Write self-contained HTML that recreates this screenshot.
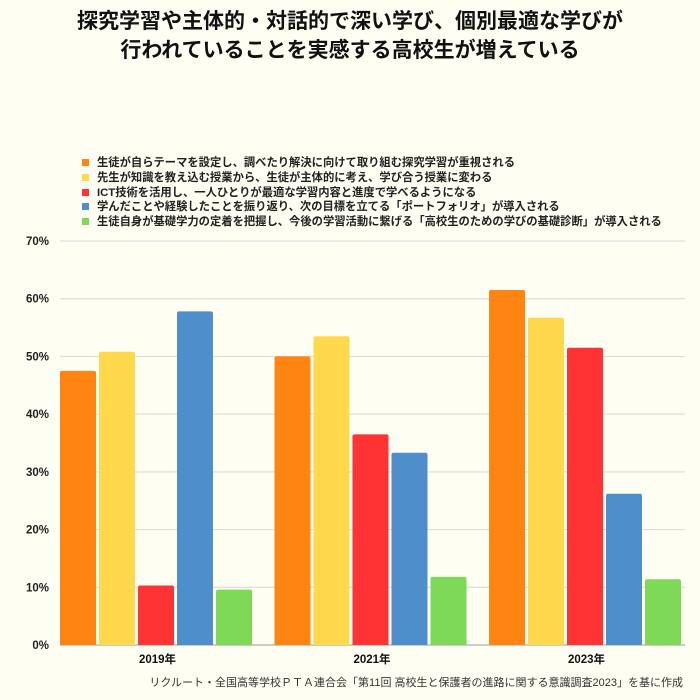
<!DOCTYPE html>
<html><head><meta charset="utf-8"><style>
body{margin:0;background:#fefef3;}
#wrap{position:relative;width:700px;height:700px;background:#fefef3;font-family:"Liberation Sans","Noto Sans CJK JP",sans-serif;overflow:hidden;}
#title{position:absolute;left:0;top:7px;width:700px;text-align:center;font-size:21px;font-weight:bold;line-height:29px;color:#111;}
.leg{position:absolute;left:82px;font-size:11.3px;font-weight:bold;color:#222;white-space:nowrap;}
.leg span{display:inline-block;width:7px;height:7px;margin-right:8px;vertical-align:0px;}
#foot{position:absolute;right:17px;top:674px;font-size:11px;color:#333;white-space:nowrap;}
</style></head><body>
<div id="wrap">
<div id="title">探究学習や主体的・対話的で深い学び、個別最適な学びが<br>行われていることを実感する高校生が増えている</div>
<div class="leg" style="top:154px"><span style="background:#ff8411"></span>生徒が自らテーマを設定し、調べたり解決に向けて取り組む探究学習が重視される</div>
<div class="leg" style="top:169px"><span style="background:#ffd84d"></span>先生が知識を教え込む授業から、生徒が主体的に考え、学び合う授業に変わる</div>
<div class="leg" style="top:183.5px"><span style="background:#ff3333"></span>ICT技術を活用し、一人ひとりが最適な学習内容と進度で学べるようになる</div>
<div class="leg" style="top:198px"><span style="background:#4e8fcb"></span>学んだことや経験したことを振り返り、次の目標を立てる「ポートフォリオ」が導入される</div>
<div class="leg" style="top:213px"><span style="background:#7ed957"></span>生徒自身が基礎学力の定着を把握し、今後の学習活動に繋げる「高校生のための学びの基礎診断」が導入される</div>
<svg id="plot" width="700" height="700" style="position:absolute;left:0;top:0"></svg>
<div id="foot">リクルート・全国高等学校ＰＴＡ連合会「第11回 高校生と保護者の進路に関する意識調査2023」を基に作成</div>
</div>
<script>
const categories=["2019年","2021年","2023年"];
const seriesInquiry=[47.5,50.0,61.5];
const seriesActive=[50.8,53.5,56.7];
const seriesIct=[10.3,36.5,51.5];
const seriesPortfolio=[57.8,33.3,26.2];
const seriesDiagnosis=[9.6,11.8,11.4];
const tickLabels=["0%","10%","20%","30%","40%","50%","60%","70%"];
const tickValues=[0,10,20,30,40,50,60,70];
const series=[seriesInquiry,seriesActive,seriesIct,seriesPortfolio,seriesDiagnosis];
const seriesNames=["inquiry","active","ict","portfolio","diagnosis"];
const colors=["#ff8411","#ffd84d","#ff3333","#4e8fcb","#7ed957"];
const NS="http://www.w3.org/2000/svg";
const svg=document.getElementById('plot');
const x0=60,x1=685,y0=645,y70=241;
function yScale(v){return y0-(v/70)*(y0-y70);}
const groupW=214.5;
function xGroup(i){return x0+i*groupW;}
function mk(t,a){const e=document.createElementNS(NS,t);for(const k in a)e.setAttribute(k,a[k]);svg.appendChild(e);return e;}
tickValues.forEach((v,i)=>{
  const l=mk('line',{x1:x0,x2:x1,y1:yScale(v),y2:yScale(v),stroke:v===0?'#bbb':'#ddd','stroke-width':v===0?1.5:1.2});
  
  
  const t=mk('text',{x:49,y:yScale(v)+4,'text-anchor':'end','font-size':11.5,'font-weight':'bold',fill:'#222','font-family':'Liberation Sans, sans-serif'});
  t.textContent=tickLabels[i];
  
  
});
const bw=36,step=39;
categories.forEach((c,i)=>{
  const gx=xGroup(i);
  series.forEach((s,j)=>{
    const bx=gx+j*step, by=yScale(s[i]);
    const r=mk('path',{d:`M${bx},${y0} L${bx},${by+2} Q${bx},${by} ${bx+2},${by} L${bx+bw-2},${by} Q${bx+bw},${by} ${bx+bw},${by+2} L${bx+bw},${y0} Z`,fill:colors[j]});
    
    
  });
  const t=mk('text',{x:gx+97.5,y:663,'text-anchor':'middle','font-size':11.5,'font-weight':'bold',fill:'#111','font-family':'Liberation Sans, Noto Sans CJK JP, sans-serif'});
  t.textContent=c;
  
  
});
</script>
</body></html>
